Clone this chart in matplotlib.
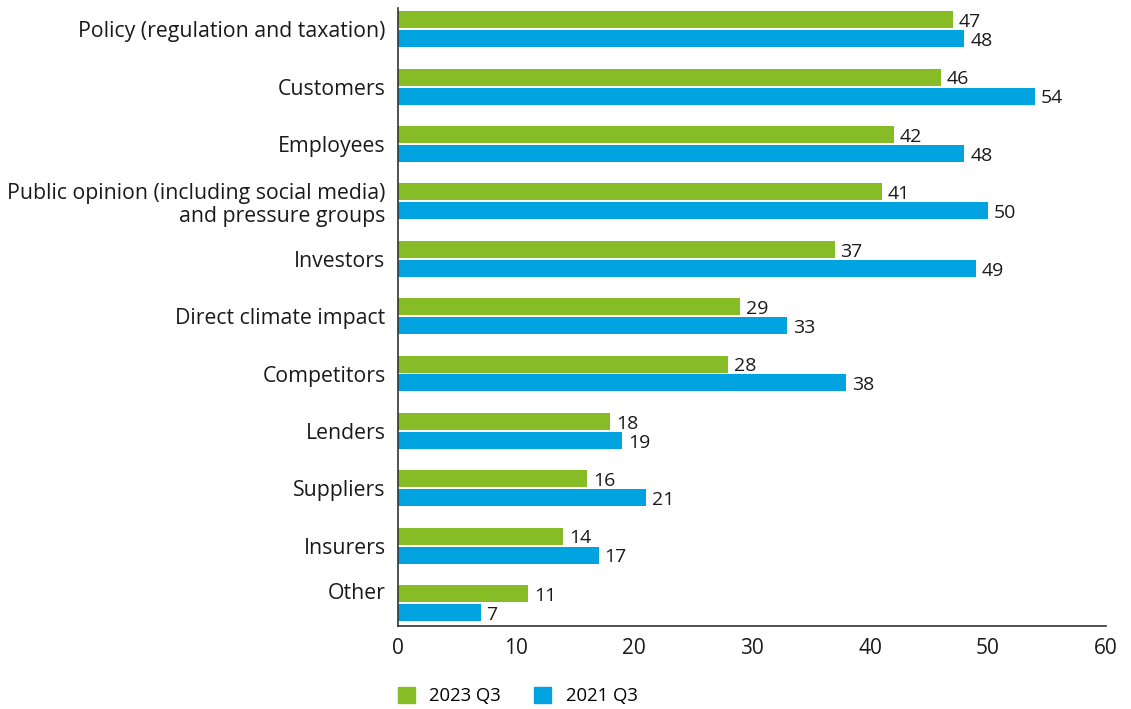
import matplotlib
matplotlib.use("Agg")
import matplotlib.pyplot as plt
import matplotlib.transforms as mtransforms
from matplotlib.patches import Patch
import numpy as np

categories = [
    "Policy (regulation and taxation)",
    "Customers",
    "Employees",
    "Public opinion (including social media)\nand pressure groups",
    "Investors",
    "Direct climate impact",
    "Competitors",
    "Lenders",
    "Suppliers",
    "Insurers",
    "Other",
]
values_2023 = [47, 46, 42, 41, 37, 29, 28, 18, 16, 14, 11]
values_2021 = [48, 54, 48, 50, 49, 33, 38, 19, 21, 17, 7]
series_labels = ["2023 Q3", "2021 Q3"]
x_ticks = [0, 10, 20, 30, 40, 50, 60]

green = "#86BC25"
blue = "#00A3E0"
text_color = "#1a1a1a"

plt.rcParams["font.family"] = ["Open Sans", "DejaVu Sans"]

fig = plt.figure(figsize=(11.31, 7.09), dpi=100)
ax = fig.add_axes([398 / 1131, 83 / 709, 708 / 1131, 618 / 709])

y = np.arange(len(categories))
h = 0.296
off = 0.165
ax.barh(y - off, values_2023, height=h, color=green)
ax.barh(y + off, values_2021, height=h, color=blue)

for yi, v in zip(y - off, values_2023):
    ax.text(v + 0.5, yi + 0.04, str(v), va="center", ha="left", fontsize=14, color=text_color)
for yi, v in zip(y + off, values_2021):
    ax.text(v + 0.5, yi + 0.04, str(v), va="center", ha="left", fontsize=14, color=text_color)

ax.set_xlim(0, 60)
ax.set_ylim(10.4, -0.37)
ax.set_xticks(x_ticks)
ax.set_xticklabels([str(t) for t in x_ticks], fontsize=15, color=text_color)
ax.set_yticks(y)
ax.set_yticklabels(categories, fontsize=15.3, color=text_color, ha="right",
                   multialignment="right", linespacing=1.12)
ax.tick_params(axis="both", length=0)
ax.tick_params(axis="x", pad=9)
ax.tick_params(axis="y", pad=9)
ax.spines["top"].set_visible(False)
ax.spines["right"].set_visible(False)
for s in ("left", "bottom"):
    ax.spines[s].set_color("#333333")
    ax.spines[s].set_linewidth(1.2)

# the last label sits a little above its pair of bars
last = ax.get_yticklabels()[-1]
last.set_transform(last.get_transform() + mtransforms.ScaledTranslation(0, 12 / 100, fig.dpi_scale_trans))

handles = [Patch(color=green), Patch(color=blue)]
fig.legend(handles, series_labels, loc="lower left", bbox_to_anchor=(381 / 1131, -0.018),
           ncol=2, frameon=False, fontsize=13.3, handlelength=0.92, handleheight=0.92,
           columnspacing=1.8, handletextpad=0.8)

fig.savefig("out.png", dpi=100)
